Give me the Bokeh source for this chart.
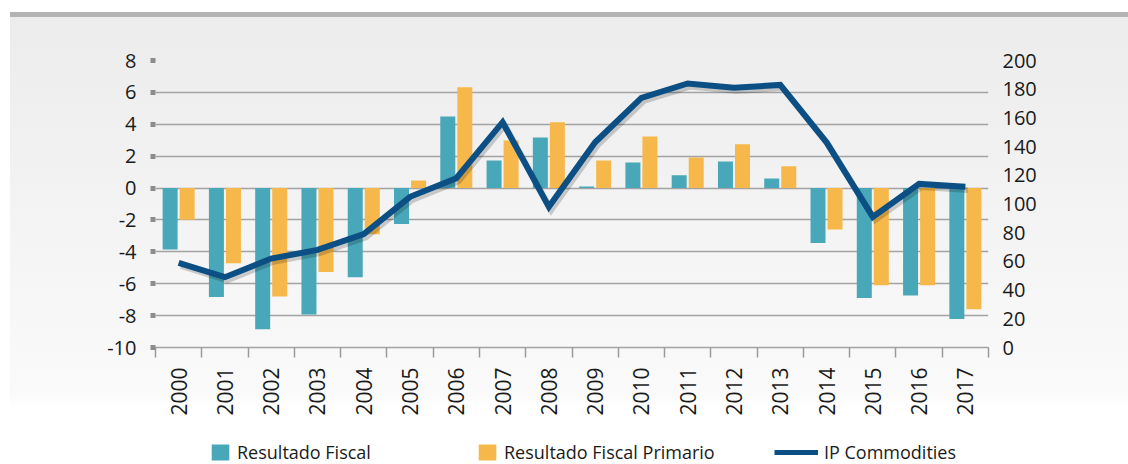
from bokeh.plotting import figure
from bokeh.layouts import column
from bokeh.models import (ColumnDataSource, Range1d, LinearAxis, FixedTicker,
                          Legend, LegendItem)
from bokeh.transform import dodge
from bokeh.embed import file_html
from bokeh.resources import INLINE
from math import pi

# ---- data ----
years = [2000, 2001, 2002, 2003, 2004, 2005, 2006, 2007, 2008,
         2009, 2010, 2011, 2012, 2013, 2014, 2015, 2016, 2017]
resultado_fiscal = [-3.85, -6.84, -8.85, -7.93, -5.59, -2.26, 4.49, 1.73, 3.17,
                    0.10, 1.60, 0.80, 1.67, 0.60, -3.45, -6.90, -6.74, -8.22]
resultado_primario = [-1.99, -4.71, -6.80, -5.27, -2.89, 0.48, 6.33, 2.98, 4.12,
                      1.73, 3.23, 1.92, 2.74, 1.36, -2.60, -6.10, -6.10, -7.60]
ip_commodities = [59, 49, 62, 68, 79, 105, 118, 157, 98,
                  143, 174, 184, 181, 183, 143, 91, 114, 112]
left_ticks = [-10, -8, -6, -4, -2, 0, 2, 4, 6, 8]
right_ticks = [0, 20, 40, 60, 80, 100, 120, 140, 160, 180, 200]
series_names = ["Resultado Fiscal", "Resultado Fiscal Primario", "IP Commodities"]

TEAL = "#48a8b9"
ORANGE = "#f6b84a"
BLUE = "#0b4f85"
FONT = "Open Sans"
TXT = "#1a1a1a"

centers = [i + 0.5 for i in range(len(years))]
src = ColumnDataSource(dict(x=centers, fiscal=resultado_fiscal,
                            primario=resultado_primario, ip=ip_commodities))

BL, BR = 155, 140

p = figure(width=1128, height=420, output_backend="svg", toolbar_location=None,
           x_range=Range1d(0, len(years)), y_range=Range1d(-10, 8),
           min_border_left=BL, min_border_right=BR,
           min_border_top=60, min_border_bottom=73)
p.extra_y_ranges = {"ip": Range1d(0, 200)}
p.border_fill_color = None
p.background_fill_color = None
p.outline_line_color = None
p.styles = {"background": "linear-gradient(to right, #ffffff 0px, #ffffff 10px, "
                          "rgba(255,255,255,0) 10px), "
                          "linear-gradient(to bottom, #ffffff 0px, #ffffff 12px, "
                          "#b3b3b3 12px, #b3b3b3 17px, #ececec 17px, #fafafa 395px, "
                          "#ffffff 407px, #ffffff 100%)"}

# grid
p.xgrid.visible = False
p.ygrid.ticker = FixedTicker(ticks=left_ticks)
p.ygrid.grid_line_color = "#a3a3a3"
p.ygrid.grid_line_width = 1.5

# bars
r1 = p.vbar(x=dodge("x", -0.184), top="fiscal", bottom=0, width=0.324,
            source=src, fill_color=TEAL, line_color=None)
r2 = p.vbar(x=dodge("x", 0.184), top="primario", bottom=0, width=0.324,
            source=src, fill_color=ORANGE, line_color=None)

# line shadow + line
p.line(x=dodge("x", 0.05), y=dodge("ip", -2.2), source=src, y_range_name="ip",
       line_color="black", line_alpha=0.18, line_width=6, line_join="miter")
r3 = p.line(x="x", y="ip", source=src, y_range_name="ip",
            line_color=BLUE, line_width=6, line_join="miter")

# x axis
xa = p.xaxis[0]
xa.ticker = FixedTicker(ticks=centers, minor_ticks=list(range(len(years) + 1)))
xa.major_label_overrides = {c: str(y) for c, y in zip(centers, years)}
xa.major_label_orientation = pi / 2
xa.major_tick_line_color = None
xa.major_tick_out = 0
xa.major_tick_in = 0
xa.minor_tick_line_color = "#9a9a9a"
xa.minor_tick_line_width = 1.5
xa.minor_tick_out = 10
xa.minor_tick_in = 0
xa.axis_line_color = "#a3a3a3"
xa.axis_line_width = 1.5
xa.major_label_standoff = 10
xa.major_label_text_font = FONT
xa.major_label_text_font_size = "21px"
xa.major_label_text_color = TXT

# left axis
ya = p.yaxis[0]
ya.ticker = FixedTicker(ticks=left_ticks)
ya.major_label_overrides = {t: str(t) for t in left_ticks}
ya.axis_line_color = None
ya.major_tick_line_color = "#8c8c8c"
ya.major_tick_line_width = 5
ya.major_tick_line_cap = "butt"
ya.major_tick_out = 5
ya.major_tick_in = 0
ya.minor_tick_line_color = None
ya.major_label_standoff = 14
ya.major_label_text_font = FONT
ya.major_label_text_font_size = "20px"
ya.major_label_text_color = TXT

# right axis
ra = LinearAxis(y_range_name="ip", ticker=FixedTicker(ticks=right_ticks))
ra.axis_line_color = None
ra.major_tick_line_color = None
ra.major_tick_out = 0
ra.major_tick_in = 0
ra.minor_tick_line_color = None
ra.major_label_standoff = 14
ra.major_label_text_font = FONT
ra.major_label_text_font_size = "20px"
ra.major_label_text_color = TXT
p.add_layout(ra, "right")

# legend strip (separate figure below the chart, frame aligned with chart)
lg = figure(width=1128, height=44, output_backend="svg", toolbar_location=None,
            x_range=Range1d(0, 1), y_range=Range1d(0, 1),
            min_border_left=BL, min_border_right=BR, min_border_top=0,
            min_border_bottom=0)
lg.axis.visible = False
lg.grid.visible = False
lg.outline_line_color = None
lg.border_fill_color = "white"
lg.background_fill_color = "white"
dummy = ColumnDataSource(dict(x=[-5, -6], y=[-5, -6]))
k1 = lg.vbar(x="x", top="y", width=0.1, source=dummy, fill_color=TEAL, line_color=None)
k2 = lg.vbar(x="x", top="y", width=0.1, source=dummy, fill_color=ORANGE, line_color=None)
k3 = lg.line(x="x", y="y", source=dummy, line_color=BLUE, line_width=5)

def make_legend(label, rend, page_x, gw):
    leg = Legend(items=[LegendItem(label=label, renderers=[rend], index=0)],
                 location=(page_x - BL, 0), orientation="horizontal",
                 glyph_width=gw, glyph_height=20, label_standoff=6,
                 label_height=20,
                 padding=0, margin=0, spacing=0,
                 label_text_font=FONT, label_text_font_size="18px",
                 label_text_color=TXT,
                 border_line_color=None, background_fill_alpha=0)
    lg.add_layout(leg, "center")

make_legend(series_names[0], k1, 209, 22)
make_legend(series_names[1], k2, 476, 22)
make_legend(series_names[2], k3, 774, 44)

layout = column(p, lg, spacing=0)
open("out.html", "w").write(file_html(layout, INLINE))
